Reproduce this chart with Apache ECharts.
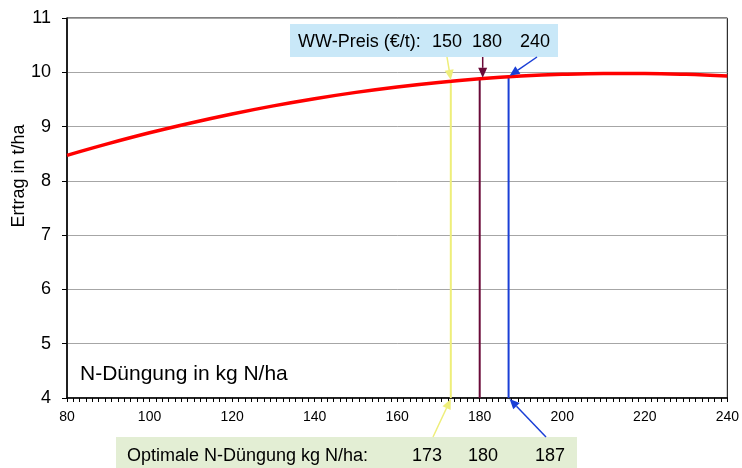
<!DOCTYPE html>
<html>
<head>
<meta charset="utf-8">
<script src="https://cdn.jsdelivr.net/npm/echarts@6/dist/echarts.min.js"></script>
<style>html,body{margin:0;padding:0;background:#fff}#c{width:742px;height:468px}</style>
</head>
<body>
<div id="c"></div>
<script>
// Data
const nRates = [80, 90, 100, 110, 120, 130, 140, 150, 160, 170, 180, 190, 200, 210, 220, 230, 240];
const yields = [8.47, 8.685, 8.885, 9.066, 9.232, 9.381, 9.513, 9.630, 9.730, 9.813, 9.880, 9.930, 9.963, 9.979, 9.979, 9.963, 9.930];
const prices = ['150', '180', '240'];
const optN = [173, 180, 187];
const optYield = [9.84, 9.88, 9.92];
const optColors = ['#eeee7a', '#6a0a38', '#1a3fd6'];
const xTicks = [80, 100, 120, 140, 160, 180, 200, 220, 240];
const yTicks = [4, 5, 6, 7, 8, 9, 10, 11];

const FONT = "'Liberation Sans', Arial, sans-serif";
const chart = echarts.init(document.getElementById('c'));

const vSeries = optN.map((n, i) => ({
  type: 'line',
  data: [[n, 4], [n, optYield[i]]],
  symbol: 'none',
  lineStyle: { color: optColors[i], width: 2 },
  z: 3,
  silent: true
}));

chart.setOption({
  animation: false,
  grid: { left: 67, right: 13, top: 18, bottom: 70, show: true, borderColor: '#000', borderWidth: 1 },
  xAxis: {
    type: 'value', min: 80, max: 240, interval: 20,
    axisLine: { lineStyle: { color: '#000', width: 1.5 } },
    axisTick: { show: true, length: 4, lineStyle: { color: '#000' } },
    minorTick: { show: true, splitNumber: 13, length: 4, lineStyle: { color: '#000' } },
    splitLine: { show: false },
    axisLabel: { color: '#000', fontSize: 14, fontFamily: FONT, margin: 12 }
  },
  yAxis: {
    type: 'value', min: 4, max: 11, interval: 1,
    axisLine: { show: true, lineStyle: { color: '#000', width: 1.5 } },
    axisTick: { show: true, length: 5, lineStyle: { color: '#000' } },
    splitLine: { show: true, lineStyle: { color: '#a6a6a6', width: 1 } },
    axisLabel: { color: '#000', fontSize: 18, fontFamily: FONT, margin: 16 }
  },
  series: [
    ...vSeries,
    {
      type: 'line',
      data: nRates.map((n, i) => [n, yields[i]]),
      smooth: 0.4,
      symbol: 'none',
      lineStyle: { color: '#ff0000', width: 3.5 },
      z: 5
    }
  ]
});

// Annotations
function arrow(x1, y1, x2, y2, color) {
  const ang = Math.atan2(y2 - y1, x2 - x1);
  const L = 10, W = 4.5;
  const bx = x2 - L * Math.cos(ang), by = y2 - L * Math.sin(ang);
  const px = -Math.sin(ang) * W, py = Math.cos(ang) * W;
  return [
    { type: 'line', shape: { x1, y1, x2: bx, y2: by }, style: { stroke: color, lineWidth: 1.5 }, z: 20 },
    { type: 'polygon', shape: { points: [[x2, y2], [bx + px, by + py], [bx - px, by - py]] }, style: { fill: color }, z: 20 }
  ];
}

const tipsTop = optN.map((n, i) => chart.convertToPixel({ gridIndex: 0 }, [n, optYield[i]]));
const tipsBot = optN.map(n => chart.convertToPixel({ gridIndex: 0 }, [n, 4]));

const g = [];
// top box
g.push({ type: 'rect', shape: { x: 290, y: 24, width: 268, height: 33 }, style: { fill: '#c9e8f8' }, z: 15 });
g.push({ type: 'text', x: 298, y: 42, style: { text: 'WW-Preis (€/t):', font: '18px ' + FONT, fill: '#000', textVerticalAlign: 'middle' }, z: 16 });
const topNumX = [447, 487, 535];
prices.forEach((p, i) => g.push({ type: 'text', x: topNumX[i], y: 42, style: { text: p, font: '18px ' + FONT, fill: '#000', textAlign: 'center', textVerticalAlign: 'middle' }, z: 16 }));
// bottom box
g.push({ type: 'rect', shape: { x: 116, y: 437, width: 461, height: 31 }, style: { fill: '#e3eed4' }, z: 15 });
g.push({ type: 'text', x: 127, y: 456, style: { text: 'Optimale N-Düngung kg N/ha:', font: '18px ' + FONT, fill: '#000', textVerticalAlign: 'middle' }, z: 16 });
const botNumX = [427, 483, 550];
optN.forEach((n, i) => g.push({ type: 'text', x: botNumX[i], y: 456, style: { text: String(n), font: '18px ' + FONT, fill: '#000', textAlign: 'center', textVerticalAlign: 'middle' }, z: 16 }));
// in-plot label
g.push({ type: 'text', x: 80, y: 374, style: { text: 'N-Düngung in kg N/ha', font: '21px ' + FONT, fill: '#000', textVerticalAlign: 'middle' }, z: 16 });
// y axis title
g.push({ type: 'text', x: 19, y: 176, rotation: Math.PI / 2, style: { text: 'Ertrag in t/ha', font: '18px ' + FONT, fill: '#000', textAlign: 'center', textVerticalAlign: 'middle' }, z: 16 });

// arrows from top box to curve
g.push(...arrow(447, 57, tipsTop[0][0], tipsTop[0][1] - 1, optColors[0]));
g.push(...arrow(tipsTop[1][0] + 3, 57, tipsTop[1][0] + 3, tipsTop[1][1] - 1, optColors[1]));
g.push(...arrow(537, 57, tipsTop[2][0] + 1, tipsTop[2][1] - 1, optColors[2]));
// arrows from bottom box to axis
g.push(...arrow(433, 437, tipsBot[0][0], tipsBot[0][1] + 1, optColors[0]));
g.push(...arrow(546, 437, tipsBot[2][0] + 1, tipsBot[2][1] + 1, optColors[2]));

chart.setOption({ graphic: g });
</script>
</body>
</html>
